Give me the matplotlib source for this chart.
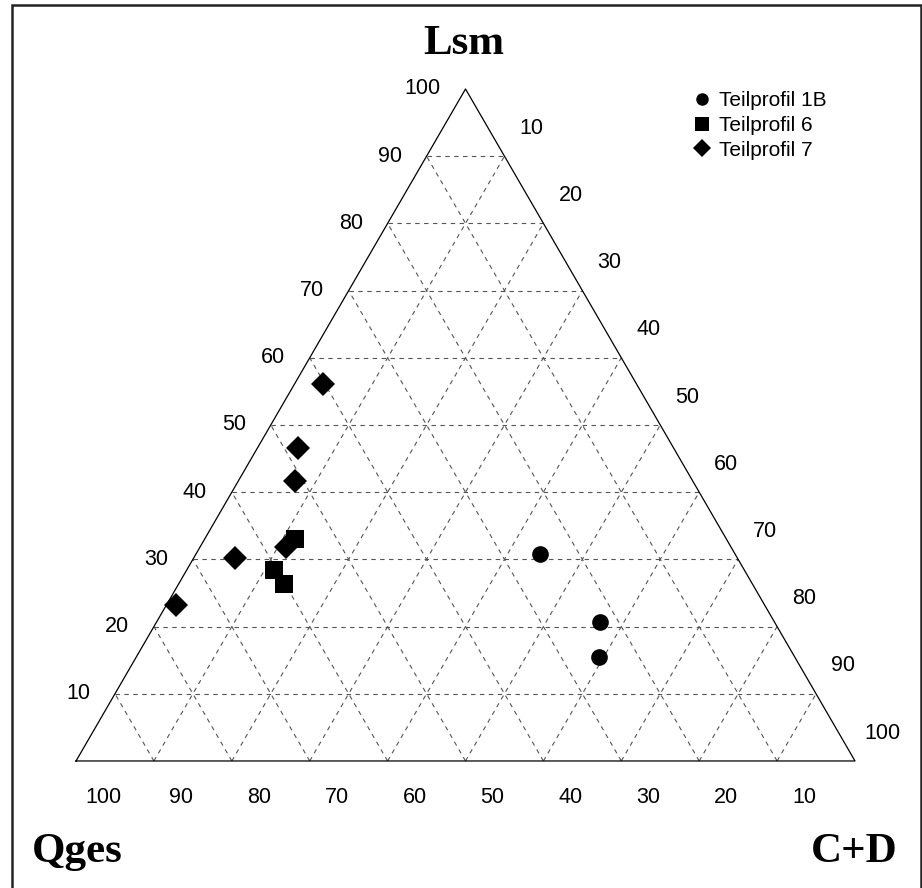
import matplotlib.pyplot as plt
from matplotlib.patches import Rectangle
import numpy as np

# ternary data: (Qges, Lsm, C+D) in percent
profile_names = ["Teilprofil 1B", "Teilprofil 6", "Teilprofil 7"]

qges_1b = [25.0, 22.4, 25.2]
lsm_1b = [30.8, 20.7, 15.4]
cd_1b = [44.2, 56.9, 59.4]

qges_6 = [55.4, 60.4, 60.1]
lsm_6 = [33.0, 28.4, 26.4]
cd_6 = [11.6, 11.2, 13.5]

qges_7 = [40.2, 48.3, 51.0, 57.1, 64.5, 75.6]
lsm_7 = [56.1, 46.5, 41.7, 31.9, 30.2, 23.2]
cd_7 = [3.7, 5.2, 7.3, 11.0, 5.3, 1.2]

grid_levels = [10, 20, 30, 40, 50, 60, 70, 80, 90]
tick_values = [10, 20, 30, 40, 50, 60, 70, 80, 90, 100]

H = np.sqrt(3) / 2


def to_xy(q, l, c):
    """Ternary (Qges, Lsm, C+D) -> cartesian, Qges corner at origin."""
    q, l, c = np.asarray(q, float), np.asarray(l, float), np.asarray(c, float)
    tot = q + l + c
    return 100 * (c + l / 2) / tot, 100 * H * l / tot


fig = plt.figure(figsize=(9.22, 8.88), dpi=100)
ax = fig.add_axes([0, 0, 1, 1])
ax.set_xlim(-9.76, 108.6)
ax.set_ylim(-16.37, 98.07)
ax.axis("off")

# outer frame
fig.patches.append(Rectangle((12 / 922, -0.05), 909 / 922, 1.05 - 5 / 888,
                             transform=fig.transFigure, fill=False,
                             edgecolor="#222222", linewidth=1.8))

# dashed grid
grid_kw = dict(color="#555555", linestyle=(0, (4, 4)), linewidth=0.8)
for v in grid_levels:
    x, y = to_xy([100 - v, 0], [v, v], [0, 100 - v])
    ax.plot(x, y, **grid_kw)
    x, y = to_xy([100 - v, 0], [0, 100 - v], [v, v])
    ax.plot(x, y, **grid_kw)
    x, y = to_xy([v, v], [0, 100 - v], [100 - v, 0])
    ax.plot(x, y, **grid_kw)

# triangle outline
x, y = to_xy([100, 0, 0, 100], [0, 100, 0, 0], [0, 0, 100, 0])
ax.plot(x, y, color="black", linewidth=0.9)

# axis value labels
lab_kw = dict(fontsize=15.5, family="Liberation Sans")
for v in tick_values:
    x, y = to_xy(100 - v, v, 0)
    ax.text(x - 3.2, y, str(v), ha="right", va="center", **lab_kw)
    x, y = to_xy(0, 100 - v, v)
    ax.text(x + 3.47, y + 3.6, str(v), ha="center", va="center", **lab_kw)
    x, y = to_xy(v, 0, 100 - v)
    ax.text(x + 3.47, y - 4.77, str(v), ha="center", va="center", **lab_kw)

# data points
x, y = to_xy(qges_1b, lsm_1b, cd_1b)
h1, = ax.plot(x, y, "o", color="black", markersize=12, markeredgewidth=0,
              linestyle="none", label=profile_names[0])
x, y = to_xy(qges_6, lsm_6, cd_6)
h2, = ax.plot(x, y, "s", color="black", markersize=12.5, markeredgewidth=0,
              linestyle="none", label=profile_names[1])
x, y = to_xy(qges_7, lsm_7, cd_7)
h3, = ax.plot(x, y, "D", color="black", markersize=11.8, markeredgewidth=0,
              linestyle="none", label=profile_names[2])

ax.legend(handles=[h1, h2, h3], loc="upper left",
          bbox_to_anchor=(694 / 922, 1 - 91 / 888), frameon=False,
          markerscale=0.75, handlelength=0.8, handletextpad=0.4,
          labelspacing=0.28, borderpad=0, borderaxespad=0,
          prop={"family": "Liberation Sans", "size": 15})

# corner titles
title_kw = dict(fontsize=31, family="Liberation Serif", fontweight="bold")
fig.text(464 / 922, 1 - 54 / 888, "Lsm", ha="center", va="baseline", **title_kw)
fig.text(32 / 922, 1 - 862 / 888, "Qges", ha="left", va="baseline", **title_kw)
fig.text(898 / 922, 1 - 862 / 888, "C+D", ha="right", va="baseline", **title_kw)

fig.savefig("out.png", dpi=100)
